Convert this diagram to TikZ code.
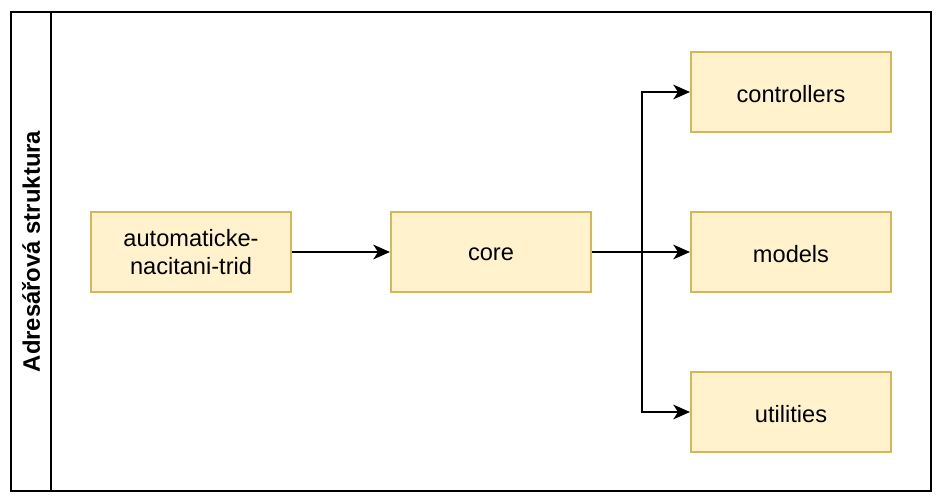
\documentclass[tikz,border=0pt]{standalone}
\usepackage{fontspec}
\setmainfont{Liberation Sans}
\usetikzlibrary{arrows.meta}
\definecolor{boxfill}{HTML}{FFF2CC}
\definecolor{boxdraw}{HTML}{D6B656}
% set a one-line label slightly lower, keeping its box size
\newcommand{\lowlabel}[1]{\raisebox{-1.5pt}[\height][\depth]{#1}}
\begin{document}
\begin{tikzpicture}[x=0.75pt,y=-0.75pt,
  folder/.style={draw=boxdraw,fill=boxfill,line width=1.5pt,minimum width=150pt,minimum height=60pt,
    inner sep=0pt,align=center,font=\fontsize{17.7}{21}\selectfont},
  link/.style={draw=black,line width=1.5pt,-{Stealth[length=12.5pt,width=11pt,inset=3.5pt]}}]
  \useasboundingbox (0,0) rectangle (942,502);
  % pool frame with its title band
  \draw[line width=1.5pt] (11,12) rectangle (931,491);
  \draw[line width=1.5pt] (51,12) -- (51,491);
  \node[rotate=90,font=\fontsize{17.9}{21}\selectfont\bfseries] (title) at (31,251.5) {Adresářová struktura};
  % directories
  \node[folder] (auto) at (191,252) {automaticke-\\nacitani-trid};
  \node[folder] (core) at (491,252) {\lowlabel{core}};
  \node[folder] (ctrl) at (791,92) {\lowlabel{controllers}};
  \node[folder] (models) at (791,252) {\lowlabel{models}};
  \node[folder] (util) at (791,412) {\lowlabel{utilities}};
  % dependencies
  \draw[link] (auto.east) -- (core.west);
  \draw[link] (core.east) -- (models.west);
  \draw[link] (core.east) -- ++(50,0) |- (ctrl.west);
  \draw[link] (core.east) -- ++(50,0) |- (util.west);
\end{tikzpicture}
\end{document}
